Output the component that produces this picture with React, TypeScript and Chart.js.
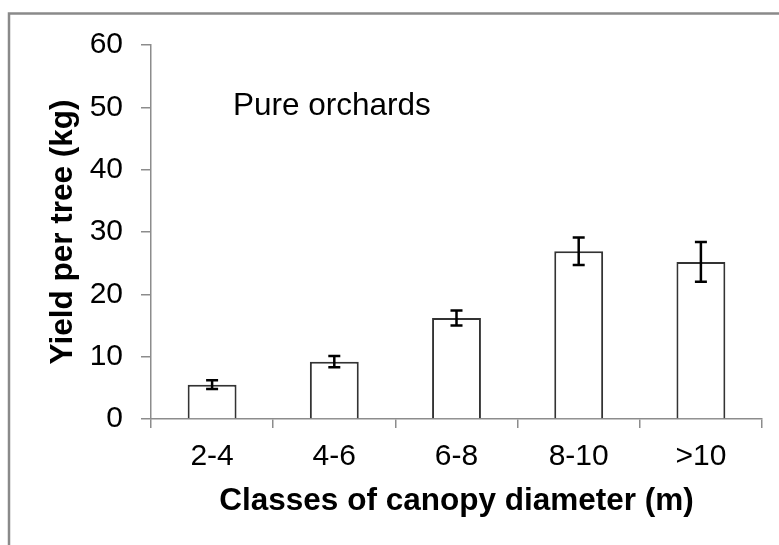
import React, { useEffect, useRef } from "react";
import { Chart, registerables } from "chart.js";

Chart.register(...registerables);

const categories = ["2-4", "4-6", "6-8", "8-10", ">10"];
const yieldMeans = [5.5, 9.2, 16.2, 26.9, 25.2];
const yieldErrors = [0.7, 0.9, 1.2, 2.2, 3.2];
const yMin = 0;
const yMax = 60;
const yStep = 10;
const xTitle = "Classes of canopy diameter (m)";
const yTitle = "Yield per tree (kg)";
const annotationText = "Pure orchards";

const FONT = "'Liberation Sans', Arial, sans-serif";
const AXIS_GRAY = "#8c8c8c";

const framePlugin = {
  id: "frame",
  beforeDraw(chart: any) {
    const ctx = chart.ctx;
    ctx.save();
    ctx.fillStyle = "#ffffff";
    ctx.fillRect(0, 0, chart.width, chart.height);
    ctx.strokeStyle = "#8a8a8a";
    ctx.lineWidth = 2.5;
    ctx.strokeRect(9, 13.5, chart.width + 50, chart.height + 50);
    ctx.restore();
  },
};

const errorBarPlugin = {
  id: "errorBars",
  afterDatasetsDraw(chart: any) {
    const ctx = chart.ctx;
    const xs = chart.scales.x;
    const ys = chart.scales.y;
    ctx.save();
    ctx.strokeStyle = "#000000";
    ctx.lineWidth = 2.5;
    yieldMeans.forEach((m, i) => {
      const e = yieldErrors[i];
      const x = xs.getPixelForValue(i);
      const yt = ys.getPixelForValue(m + e);
      const yb = ys.getPixelForValue(m - e);
      const half = 6;
      ctx.beginPath();
      ctx.moveTo(x, yt);
      ctx.lineTo(x, yb);
      ctx.moveTo(x - half, yt);
      ctx.lineTo(x + half, yt);
      ctx.moveTo(x - half, yb);
      ctx.lineTo(x + half, yb);
      ctx.stroke();
    });
    ctx.restore();
  },
};

const annotationPlugin = {
  id: "annotationText",
  afterDraw(chart: any) {
    const ctx = chart.ctx;
    const area = chart.chartArea;
    ctx.save();
    ctx.font = `31.5px ${FONT}`;
    ctx.fillStyle = "#000000";
    ctx.textAlign = "left";
    ctx.textBaseline = "alphabetic";
    ctx.fillText(annotationText, area.left + 82, area.top + 70);
    ctx.restore();
  },
};

export default function App() {
  const canvasRef = useRef<HTMLCanvasElement | null>(null);

  useEffect(() => {
    if (!canvasRef.current) return;
    const chart = new Chart(canvasRef.current, {
      type: "bar",
      data: {
        labels: categories,
        datasets: [
          {
            data: yieldMeans,
            backgroundColor: "#ffffff",
            borderColor: "#333333",
            borderWidth: 2,
            barPercentage: 0.4,
            categoryPercentage: 1,
          },
        ],
      },
      plugins: [framePlugin, errorBarPlugin, annotationPlugin],
      options: {
        responsive: false,
        animation: false,
        layout: { padding: { left: 0, right: 17, top: 45, bottom: 0 } },
        plugins: {
          legend: { display: false },
          tooltip: { enabled: false },
        },
        scales: {
          x: {
            afterFit(scale: any) {
              scale.height = 126;
            },
            grid: {
              display: true,
              drawOnChartArea: false,
              drawTicks: true,
              tickLength: 9,
              color: AXIS_GRAY,
              lineWidth: 1.5,
              offset: true,
            },
            border: { display: true, color: AXIS_GRAY, width: 1.5 },
            ticks: {
              color: "#000000",
              font: { family: FONT, size: 30 },
              padding: 11,
              maxRotation: 0,
            },
            title: {
              display: true,
              text: xTitle,
              color: "#000000",
              font: { family: FONT, size: 31.5, weight: "bold" },
              padding: { top: 0, bottom: 25 },
            },
          },
          y: {
            min: yMin,
            max: yMax,
            afterFit(scale: any) {
              scale.width = 151;
            },
            grid: {
              display: true,
              drawOnChartArea: false,
              drawTicks: true,
              tickLength: 10,
              color: AXIS_GRAY,
              lineWidth: 1.5,
            },
            border: { display: true, color: AXIS_GRAY, width: 1.5 },
            ticks: {
              stepSize: yStep,
              color: "#000000",
              font: { family: FONT, size: 30 },
              padding: 18,
            },
            title: {
              display: true,
              text: yTitle,
              color: "#000000",
              font: { family: FONT, size: 31.5, weight: "bold" },
              padding: { top: 44, bottom: 0 },
            },
          },
        },
      },
    });
    return () => chart.destroy();
  }, []);

  return (
    <div style={{ position: "fixed", left: 0, top: 0, width: 779, height: 545 }}>
      <canvas ref={canvasRef} width={779} height={545} />
    </div>
  );
}
